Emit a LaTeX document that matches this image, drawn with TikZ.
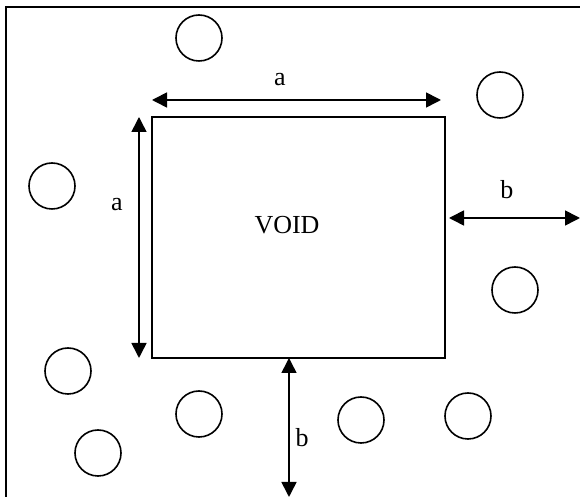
\documentclass[tikz,border=0pt]{standalone}
\usepackage{fontspec}
\setmainfont{Liberation Serif}
\usetikzlibrary{arrows.meta}

\begin{document}
\begin{tikzpicture}[x=0.5pt, y=-0.5pt, line width=0.8pt,
    every node/.style={font=\fontsize{13}{15}\selectfont},
    dimarrow/.style={{Triangle[length=7.5pt,width=7.5pt]}-{Triangle[length=7.5pt,width=7.5pt]}}]
  \useasboundingbox (0,0) rectangle (580,497);
  % frame (cut by the page on the right and below)
  \draw (6,505) -- (6,7) -- (590,7);
  % the void
  \coordinate (tl) at (152,117);
  \coordinate (br) at (445,358);
  \draw (tl) rectangle (br);
  \node (void) at (287,225) {VOID};
  % particles
  \foreach \x/\y in {199/38, 500/95, 52/186, 515/290, 68/371,
                     98/453, 199/414, 361/420, 468/416} {
    \draw (\x,\y) circle (23);
  }
  % dimensions
  \coordinate (atl) at (152,100);
  \coordinate (atr) at (441,100);
  \coordinate (alt) at (139,117);
  \coordinate (alb) at (139,358);
  \coordinate (bl) at (449,218);
  \coordinate (br2) at (580,218);
  \coordinate (bt) at (289,358);
  \coordinate (bb) at (289,497);
  \draw[dimarrow] (atl) -- (atr);
  \draw[dimarrow] (alt) -- (alb);
  \draw[dimarrow] (bl) -- (br2);
  \draw[dimarrow] (bt) -- (bb);
  \node (la) at (280,80) {a};
  \node (la2) at (117,205) {a};
  \node (lb) at (507,190) {b};
  \node (lb2) at (302,438) {b};
\end{tikzpicture}
\end{document}
